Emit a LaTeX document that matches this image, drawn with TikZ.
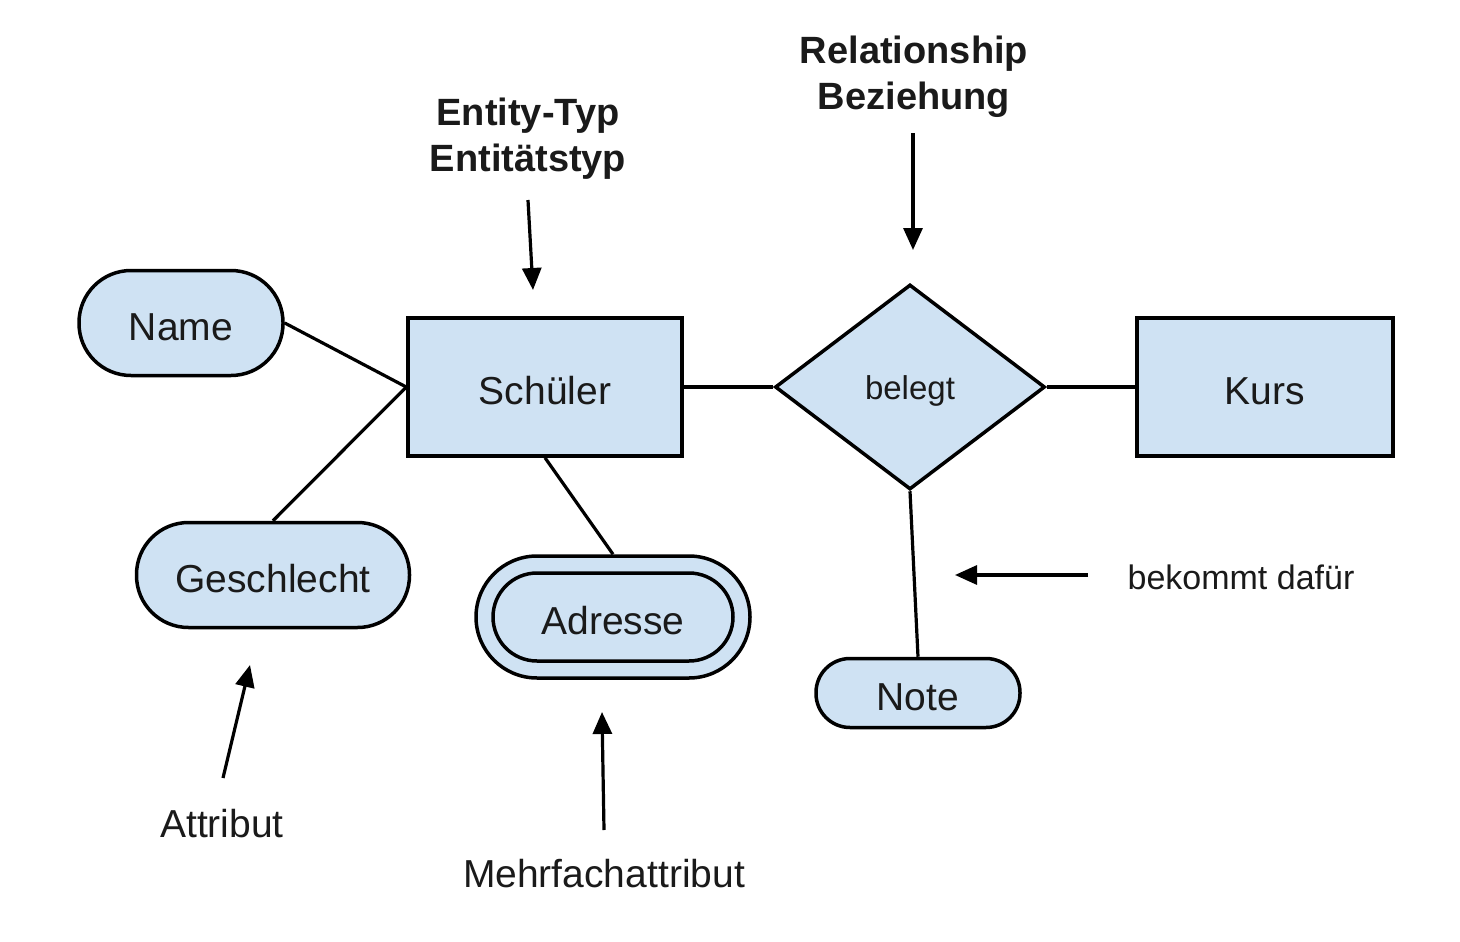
\documentclass[tikz,border=0pt]{standalone}
\usepackage{fontspec}
\setmainfont{Liberation Sans}
\usetikzlibrary{shapes.geometric,arrows.meta}
\definecolor{erfill}{HTML}{CFE2F3}
\definecolor{ertext}{HTML}{1A1A1A}
\tikzset{
  base/.style={draw=black,line width=3.5pt,fill=erfill,text=ertext,inner sep=0pt,
    font=\fontsize{39}{46}\selectfont,text height=34pt,text depth=0pt},
  entity/.style={base,rectangle,minimum width=274pt,minimum height=138pt},
  attr/.style={base,rectangle,minimum height=105pt,rounded corners=52pt},
  relship/.style={base,diamond,minimum width=270pt,minimum height=205pt,
    font=\fontsize{33}{40}\selectfont,text height=25pt,text depth=0pt},
  conn/.style={line width=3.2pt,draw=black},
  pointer/.style={line width=3.2pt,draw=black,-{Triangle[length=22pt,width=19pt]}},
  lbl/.style={text=ertext,inner sep=0pt,font=\fontsize{39}{46}\selectfont,align=center},
  boldlbl/.style={lbl,font=\fontsize{38}{46}\selectfont\bfseries}
}
\begin{document}
\begin{tikzpicture}[x=1pt,y=-1pt]
\useasboundingbox (0,0) rectangle (1460,942);
% nodes
\node[attr,minimum width=204pt] (name) at (181,323) {Name};
\node[entity] (schueler) at (545,387) {Schüler};
\node[relship] (belegt) at (910,387) {belegt};
\node[entity,minimum width=256pt] (kurs) at (1265,387) {Kurs};
\node[attr,minimum width=273pt] (geschlecht) at (273,575) {Geschlecht};
\node[attr,minimum width=274pt,minimum height=122pt,rounded corners=61pt] (adresse) at (613,617) {};
\node[attr,minimum width=240pt,minimum height=88pt,rounded corners=44pt] (adresseinner) at (613,617) {Adresse};
\node[attr,minimum width=204pt,minimum height=69pt,rounded corners=34pt] (note) at (918,693) {Note};
% connectors
\draw[conn] (name.east) -- (schueler.west);
\draw[conn] (geschlecht.north) -- (schueler.west);
\draw[conn] (schueler.south) -- (adresse.north);
\draw[conn] (schueler.east) -- (belegt.west);
\draw[conn] (belegt.east) -- (kurs.west);
\draw[conn] (belegt.south) -- (note.north);
% labels
\node[boldlbl] (entitylbl) at (528,139) {Entity-Typ\\Entitätstyp};
\node[boldlbl] (rellbl) at (914,77) {Relationship\\Beziehung};
\node[lbl,font=\fontsize{34}{40}\selectfont] (bekommt) at (1241,577) {bekommt dafür};
\node[lbl] (attrlbl) at (222,824) {Attribut};
\node[lbl] (mehrlbl) at (604,874) {Mehrfachattribut};
% pointer coordinates
\coordinate (e1) at (528,200); \coordinate (e2) at (533,290);
\coordinate (r1) at (913,133); \coordinate (r2) at (913,250);
\coordinate (b1) at (1088,575); \coordinate (b2) at (955,575);
\coordinate (a1) at (223,778); \coordinate (a2) at (250,665);
\coordinate (m1) at (604,830); \coordinate (m2) at (602,712);
\draw[pointer] (e1) -- (e2);
\draw[pointer] (r1) -- (r2);
\draw[pointer] (b1) -- (b2);
\draw[pointer] (a1) -- (a2);
\draw[pointer] (m1) -- (m2);
\end{tikzpicture}
\end{document}
